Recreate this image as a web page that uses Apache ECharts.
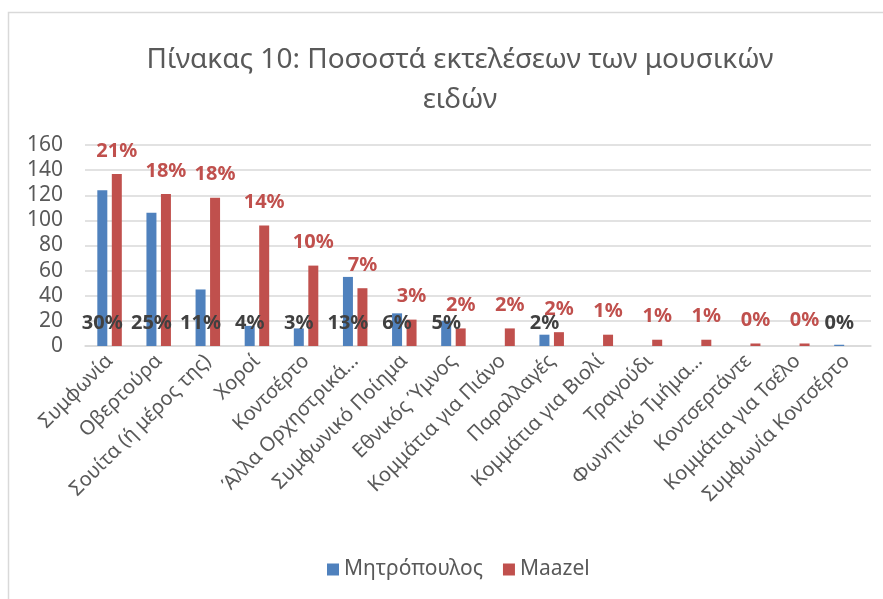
<!DOCTYPE html>
<html>
<head>
<meta charset="utf-8">
<script src="https://cdn.jsdelivr.net/npm/echarts@6/dist/echarts.min.js"></script>
<style>
  html, body { margin: 0; padding: 0; background: #fff; }
  #chart { width: 883px; height: 599px; }
</style>
</head>
<body>
<div id="chart"></div>
<script>
// Κατηγορίες μουσικών ειδών
const categories = [
  'Συμφωνία', 'Οβερτούρα', 'Σουίτα (ή μέρος της)', 'Χοροί', 'Κοντσέρτο',
  'Άλλα Ορχηστρικά…', 'Συμφωνικό Ποίημα', 'Εθνικός Ύμνος', 'Κομμάτια για Πιάνο',
  'Παραλλαγές', 'Κομμάτια για Βιολί', 'Τραγούδι', 'Φωνητικό Τμήμα…',
  'Κοντσερτάντε', 'Κομμάτια για Τσέλο', 'Συμφωνία Κοντσέρτο'
];

// Αριθμός εκτελέσεων
const mitropoulosValues = [124, 106, 45, 16, 14, 55, 26, 20, null, 9, null, null, null, null, null, 1];
const maazelValues = [137, 121, 118, 96, 64, 46, 21, 14, 14, 11, 9, 5, 5, 2, 2, null];

// Ετικέτες ποσοστών όπως φαίνονται
const mitropoulosLabels = ['30%', '25%', '11%', '4%', '3%', '13%', '6%', '5%', '', '2%', '', '', '', '', '', '0%'];
const maazelLabels = ['21%', '18%', '18%', '14%', '10%', '7%', '3%', '2%', '2%', '2%', '1%', '1%', '1%', '0%', '0%', ''];

const yTicks = { min: 0, max: 160, interval: 20 };

const FONT = '"Noto Sans", "Open Sans", sans-serif';
const BLUE = '#4F81BD';
const RED = '#C0504D';
const GREY_TEXT = '#595959';

const chart = echarts.init(document.getElementById('chart'), null, { renderer: 'canvas' });

const option = {
  backgroundColor: '#fff',
  animation: false,
  title: {
    text: 'Πίνακας 10: Ποσοστά εκτελέσεων των μουσικών\nειδών',
    left: 455,
    top: 35,
    textAlign: 'center',
    textStyle: {
      fontFamily: FONT,
      fontSize: 28,
      fontWeight: 'normal',
      color: GREY_TEXT,
      lineHeight: 40
    }
  },
  legend: {
    bottom: 14,
    left: 322,
    icon: 'rect',
    itemWidth: 12,
    itemHeight: 12,
    itemGap: 20,
    textStyle: { fontFamily: FONT, fontSize: 21, color: GREY_TEXT }
  },
  grid: { left: 85, right: 12, top: 145, bottom: 253 },
  xAxis: {
    type: 'category',
    data: categories,
    axisLine: { lineStyle: { color: '#D9D9D9', width: 1.5 } },
    axisTick: { show: false },
    axisLabel: {
      interval: 0,
      rotate: 45,
      margin: 12,
      fontFamily: FONT,
      fontSize: 20,
      color: GREY_TEXT
    }
  },
  yAxis: {
    type: 'value',
    min: yTicks.min,
    max: yTicks.max,
    interval: yTicks.interval,
    axisLine: { show: false },
    axisTick: { show: false },
    splitLine: { lineStyle: { color: '#D9D9D9', width: 1.5 } },
    axisLabel: { fontFamily: FONT, fontSize: 21, color: GREY_TEXT, margin: 22 }
  },
  series: [
    {
      name: 'Μητρόπουλος',
      type: 'bar',
      barWidth: 10,
      barGap: '45%',
      itemStyle: { color: BLUE },
      data: mitropoulosValues,
      label: {
        show: true,
        position: 'insideBottom',
        distance: 13,
        formatter: (p) => mitropoulosLabels[p.dataIndex],
        fontFamily: FONT,
        fontSize: 20,
        fontWeight: 'bold',
        color: '#404040'
      }
    },
    {
      name: 'Maazel',
      type: 'bar',
      barWidth: 10,
      barGap: '45%',
      itemStyle: { color: RED },
      data: maazelValues,
      label: {
        show: true,
        position: 'top',
        distance: 13,
        formatter: (p) => maazelLabels[p.dataIndex],
        fontFamily: FONT,
        fontSize: 20,
        fontWeight: 'bold',
        color: RED
      }
    }
  ],
  graphic: [
    {
      type: 'rect',
      shape: { x: 8.5, y: 12.5, width: 900, height: 600 },
      style: { fill: 'none', stroke: '#D9D9D9', lineWidth: 1.5 },
      silent: true,
      z: -1
    }
  ]
};

chart.setOption(option);
</script>
</body>
</html>
